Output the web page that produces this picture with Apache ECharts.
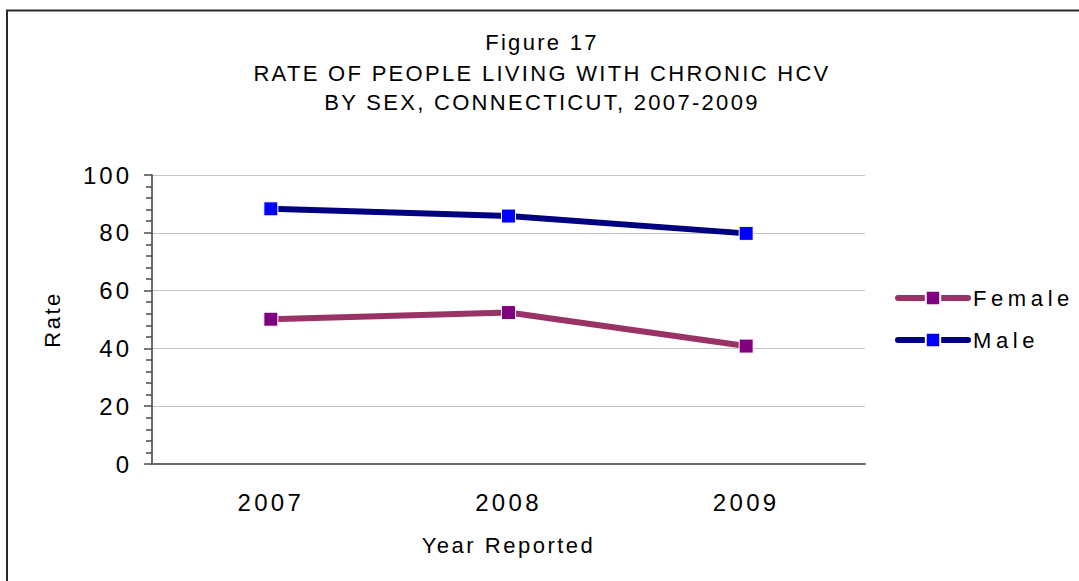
<!DOCTYPE html>
<html>
<head>
<meta charset="utf-8">
<script src="https://cdn.jsdelivr.net/npm/echarts@6/dist/echarts.min.js"></script>
<style>
  html, body { margin: 0; padding: 0; background: #fff; }
  #chart { width: 1079px; height: 581px; }
</style>
</head>
<body>
<div id="chart"></div>
<script>
// Chart data
const years = ['2007', '2008', '2009'];
const femaleRate = [50.1, 52.4, 40.8];
const maleRate = [88.3, 85.8, 79.8];
const seriesNames = ['Female', 'Male'];
const titleLines = ['Figure 17', 'RATE OF PEOPLE LIVING WITH CHRONIC HCV', 'BY SEX, CONNECTICUT, 2007-2009'];
const yAxisName = 'Rate';
const xAxisName = 'Year Reported';

const FONT = "'Liberation Sans', Arial, sans-serif";

// Letter spacing (px) applied to the rendered SVG text, by group
const spacing = {};
titleLines.forEach(t => spacing[t] = 2.3);
years.forEach(t => spacing[t] = 3.3);
['0', '20', '40', '60', '80', '100'].forEach(t => spacing[t] = 3);
seriesNames.forEach(t => spacing[t] = 4.6);
spacing[yAxisName] = 2.5;
spacing[xAxisName] = 2.5;

const chart = echarts.init(document.getElementById('chart'), null, { renderer: 'svg' });

const titleY = [42, 73, 102];

chart.setOption({
  animation: false,
  backgroundColor: '#fff',
  textStyle: { fontFamily: FONT },
  graphic: [
    {
      type: 'rect',
      shape: { x: 7, y: 10.5, width: 1200, height: 700 },
      style: { fill: 'none', stroke: '#2a2a2a', lineWidth: 2 },
      silent: true
    }
  ].concat(titleLines.map((t, i) => ({
    type: 'text',
    x: 542,
    y: titleY[i],
    style: {
      text: t,
      fill: '#000',
      font: '22px ' + FONT,
      textAlign: 'center',
      textVerticalAlign: 'middle'
    },
    silent: true
  }))),
  legend: {
    orient: 'vertical',
    left: 895,
    top: 287,
    padding: 0,
    itemWidth: 70,
    itemHeight: 18,
    itemGap: 20,
    data: seriesNames,
    lineStyle: { width: 6, cap: 'round' },
    textStyle: { fontSize: 22, color: '#000', fontFamily: FONT }
  },
  grid: { left: 152, right: 214, top: 175, bottom: 117, containLabel: false },
  xAxis: {
    type: 'category',
    data: years,
    boundaryGap: true,
    name: xAxisName,
    nameLocation: 'middle',
    nameGap: 70,
    nameTextStyle: { fontSize: 22, color: '#000', fontFamily: FONT },
    axisLine: { lineStyle: { color: '#6b6b6b', width: 2 } },
    axisTick: { show: false },
    axisLabel: { fontSize: 24, color: '#000', margin: 26, fontFamily: FONT },
    splitLine: { show: false }
  },
  yAxis: {
    type: 'value',
    min: 0,
    max: 100,
    interval: 20,
    name: yAxisName,
    nameLocation: 'middle',
    nameRotate: 90,
    nameGap: 89,
    nameTextStyle: { fontSize: 22, color: '#000', fontFamily: FONT },
    axisLine: { show: true, lineStyle: { color: '#6b6b6b', width: 2 } },
    axisTick: { show: true, inside: false, length: 8, lineStyle: { color: '#4a4a4a', width: 1.5 } },
    minorTick: { show: true, splitNumber: 5, length: 6, lineStyle: { color: '#4a4a4a', width: 1.5 } },
    axisLabel: { fontSize: 24, color: '#000', margin: 20, fontFamily: FONT },
    splitLine: { show: true, lineStyle: { color: '#c4c4c4', width: 1 } }
  },
  series: [
    {
      name: seriesNames[0],
      type: 'line',
      data: femaleRate,
      symbol: 'rect',
      symbolSize: 14,
      lineStyle: { color: '#993366', width: 6, cap: 'round' },
      itemStyle: { color: '#800080', borderColor: '#ffffff', borderWidth: 1 },
      emphasis: { disabled: true }
    },
    {
      name: seriesNames[1],
      type: 'line',
      data: maleRate,
      symbol: 'rect',
      symbolSize: 14,
      lineStyle: { color: '#000080', width: 6, cap: 'round' },
      itemStyle: { color: '#0000ff', borderColor: '#ffffff', borderWidth: 1 },
      emphasis: { disabled: true }
    }
  ]
});

// Widen the tracking of the text
function applySpacing() {
  document.querySelectorAll('#chart svg text').forEach(el => {
    const s = spacing[el.textContent.trim()];
    if (s !== undefined) el.setAttribute('letter-spacing', s);
  });
}
chart.on('finished', applySpacing);
applySpacing();
</script>
</body>
</html>
